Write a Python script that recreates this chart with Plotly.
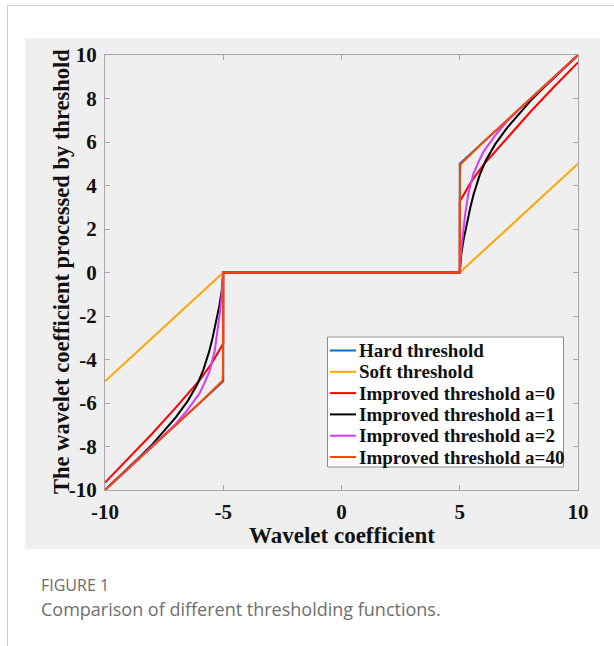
import plotly.graph_objects as go

# Thresholding functions sampled on the positive half-axis (x >= 5);
# each curve is odd, so the negative branch is mirrored.
hard_x = [5, 5, 10]
hard_y = [0, 5, 10]

soft_x = [5, 10]
soft_y = [0, 5]

imp0_x = [5, 5, 5.5, 6, 7, 8, 9, 10]
imp0_y = [0, 3.26, 4.2, 4.95, 6.2, 7.4, 8.55, 9.66]

imp1_x = [5, 5.02, 5.06, 5.16, 5.3, 5.45, 5.6, 5.85, 6.1, 6.5, 7, 7.5, 8, 8.5, 9, 10]
imp1_y = [0, 0.4, 0.8, 1.5, 2.3, 3.0, 3.65, 4.5, 5.15, 5.9, 6.65, 7.3, 7.9, 8.45, 8.97, 9.99]

imp2_x = [5, 5.02, 5.08, 5.15, 5.22, 5.36, 5.58, 5.8, 6, 6.5, 7, 7.5, 8, 10]
imp2_y = [0, 0.5, 1.2, 1.9, 2.6, 3.6, 4.55, 5.1, 5.55, 6.3, 6.95, 7.48, 7.99, 10]

imp40_x = [5, 5.01, 5.03, 6, 8, 10]
imp40_y = [0, 4.6, 4.98, 6, 8, 10]

series = [
    ("Hard threshold", hard_x, hard_y, "#0072BD"),
    ("Soft threshold", soft_x, soft_y, "#FFA500"),
    ("Improved threshold a=0", imp0_x, imp0_y, "#FF0000"),
    ("Improved threshold a=1", imp1_x, imp1_y, "#000000"),
    ("Improved threshold a=2", imp2_x, imp2_y, "#D23CFF"),
    ("Improved threshold a=40", imp40_x, imp40_y, "#FF4500"),
]

x_ticks = [-10, -5, 0, 5, 10]
y_ticks = [-10, -8, -6, -4, -2, 0, 2, 4, 6, 8, 10]


def odd_curve(xs, ys):
    """Mirror the positive branch to build the full odd function."""
    neg_x = [-v for v in reversed(xs)]
    neg_y = [-v for v in reversed(ys)]
    return neg_x + xs, neg_y + ys


fig = go.Figure()
for name, xs, ys, color in series:
    cx, cy = odd_curve(xs, ys)
    fig.add_trace(go.Scatter(
        x=cx, y=cy, mode="lines", name=name,
        line=dict(color=color, width=2),
    ))

serif = "Liberation Serif, Times New Roman, serif"
sans = "Open Sans, Noto Sans, sans-serif"
W, H = 614, 646
L, R, T, B = 105, 578, 55, 490


def px(xp):
    return (xp - L) / (R - L)


def py(yp):
    return (B - yp) / (B - T)


axis_common = dict(
    showgrid=False, zeroline=False,
    showline=True, linecolor="#a6a6a6", linewidth=1, mirror="ticks",
    ticks="inside", ticklen=5, tickcolor="#a6a6a6", tickwidth=1,
    tickfont=dict(family=serif, size=21, color="#111111"),
)

shapes = [
    # grey panel behind the axes
    dict(type="rect", xref="paper", yref="paper", layer="below",
         x0=px(25), x1=px(600), y0=py(549), y1=py(38),
         fillcolor="#efefef", line=dict(width=0)),
    # page frame lines
    dict(type="line", xref="paper", yref="paper",
         x0=px(7), x1=px(614), y0=py(5.5), y1=py(5.5),
         line=dict(color="#d0d0d0", width=1)),
    dict(type="line", xref="paper", yref="paper",
         x0=px(7.5), x1=px(7.5), y0=py(5.5), y1=py(646),
         line=dict(color="#d0d0d0", width=1)),
    # legend box
    dict(type="rect", xref="paper", yref="paper",
         x0=px(327.5), x1=px(563.5), y0=py(467), y1=py(337),
         fillcolor="white", line=dict(color="#8c8c8c", width=1)),
]

annotations = [
    dict(text="<b>Wavelet coefficient</b>", xref="paper", yref="paper",
         x=px(342), y=py(535), xanchor="center", yanchor="middle",
         showarrow=False, font=dict(family=serif, size=23, color="#111111")),
    dict(text="<b>The wavelet coefficient processed by threshold</b>",
         xref="paper", yref="paper", x=px(61), y=py(272), textangle=-90,
         xanchor="center", yanchor="middle", showarrow=False,
         font=dict(family=serif, size=22.5, color="#111111")),
    dict(text="FIGURE 1", xref="paper", yref="paper",
         x=px(39), y=py(585), xanchor="left", yanchor="middle",
         showarrow=False,
         font=dict(family=sans, size=16, color="#6b6b6b", weight=500)),
    dict(text="Comparison of different thresholding functions.",
         xref="paper", yref="paper", x=px(39), y=py(609), xanchor="left",
         yanchor="middle", showarrow=False,
         font=dict(family=sans, size=18, color="#6f6f6f")),
]

# legend entries: short line sample followed by the series name
row0, row_step = 350.5, 21.3
for i, (name, _, _, color) in enumerate(series):
    yc = row0 + i * row_step
    shapes.append(dict(type="line", xref="paper", yref="paper",
                       x0=px(330), x1=px(356), y0=py(yc), y1=py(yc),
                       line=dict(color=color, width=2)))
    annotations.append(dict(text=f"<b>{name}</b>", xref="paper", yref="paper",
                            x=px(357), y=py(yc), xanchor="left",
                            yanchor="middle", showarrow=False,
                            font=dict(family=serif, size=19, color="#111111")))

fig.update_layout(
    width=W, height=H,
    margin=dict(l=L, r=W - R, t=T, b=H - B),
    paper_bgcolor="white", plot_bgcolor="white",
    showlegend=False,
    xaxis=dict(range=[-10, 10], tickvals=x_ticks,
               ticktext=[f"<b>{v}</b>" for v in x_ticks],
               ticklabelstandoff=3, **axis_common),
    yaxis=dict(range=[-10, 10], tickvals=y_ticks,
               ticktext=[f"<b>{v}</b>" for v in y_ticks],
               ticklabelstandoff=3, **axis_common),
    shapes=shapes,
    annotations=annotations,
)

fig.write_html("out.html")
